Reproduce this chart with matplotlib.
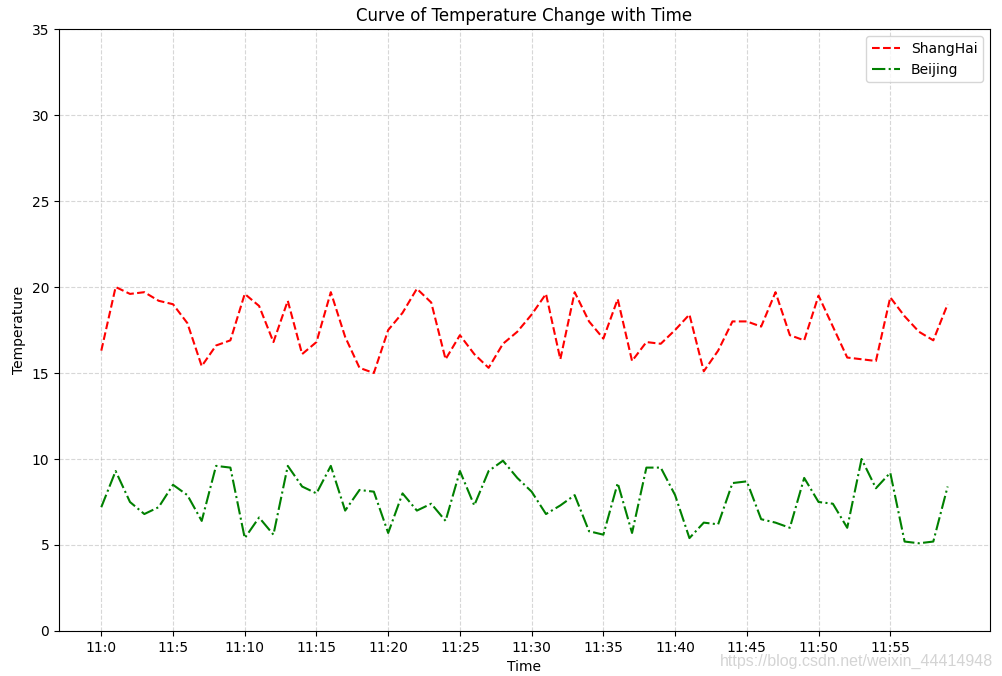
import matplotlib
matplotlib.use('Agg')
from matplotlib import pyplot as plt

# 分钟 0..59
minutes = list(range(60))
shanghai = [16.3, 20.0, 19.6, 19.7, 19.2, 19.0, 17.9, 15.4, 16.6, 16.9,
            19.6, 18.9, 16.8, 19.2, 16.1, 16.8, 19.7, 17.1, 15.3, 15.0,
            17.5, 18.5, 19.9, 19.1, 15.8, 17.2, 16.1, 15.3, 16.7, 17.4,
            18.4, 19.6, 15.8, 19.7, 18.0, 17.0, 19.3, 15.7, 16.8, 16.7,
            17.5, 18.4, 15.1, 16.3, 18.0, 18.0, 17.7, 19.7, 17.2, 16.9,
            19.5, 17.7, 15.9, 15.8, 15.7, 19.4, 18.3, 17.4, 16.9, 19.0]
beijing = [7.2, 9.3, 7.5, 6.8, 7.2, 8.5, 7.9, 6.4, 9.6, 9.5,
           5.4, 6.6, 5.6, 9.6, 8.4, 8.0, 9.6, 7.0, 8.2, 8.1,
           5.7, 8.0, 7.0, 7.4, 6.4, 9.3, 7.3, 9.3, 9.9, 8.9,
           8.1, 6.8, 7.3, 7.9, 5.8, 5.6, 8.6, 5.7, 9.5, 9.5,
           7.9, 5.4, 6.3, 6.2, 8.6, 8.7, 6.5, 6.3, 6.0, 8.9,
           7.5, 7.4, 6.0, 10.0, 8.3, 9.2, 5.2, 5.1, 5.2, 8.4]
xtick_pos = list(range(0, 60, 5))
xtick_labels = ["11:{}".format(m) for m in xtick_pos]
ytick_pos = list(range(0, 36, 5))

fig = plt.figure(figsize=(10.03, 6.76), dpi=100)
ax = fig.add_axes([0.0588, 0.0666, 0.9282, 0.8904])

ax.plot(minutes, shanghai, color='r', linestyle='--', linewidth=1.5, label='ShangHai')
ax.plot(minutes, beijing, color='g', linestyle='-.', linewidth=1.5, label='Beijing')

ax.set_xticks(xtick_pos)
ax.set_xticklabels(xtick_labels)
ax.set_yticks(ytick_pos)
ax.set_ylim(0, 35)
ax.set_xlabel('Time')
ax.set_ylabel('Temperature')
ax.set_title('Curve of Temperature Change with Time', fontsize=12)
ax.grid(True, linestyle='--', alpha=0.5)
ax.legend(loc='upper right')

# 水印
fig.text(0.99, 0.011, 'https://blog.csdn.net/weixin_44414948', ha='right', va='bottom',
         fontsize=11.5, family='Liberation Sans', color='#d4d4d4')

fig.savefig('out.png', dpi=100)
